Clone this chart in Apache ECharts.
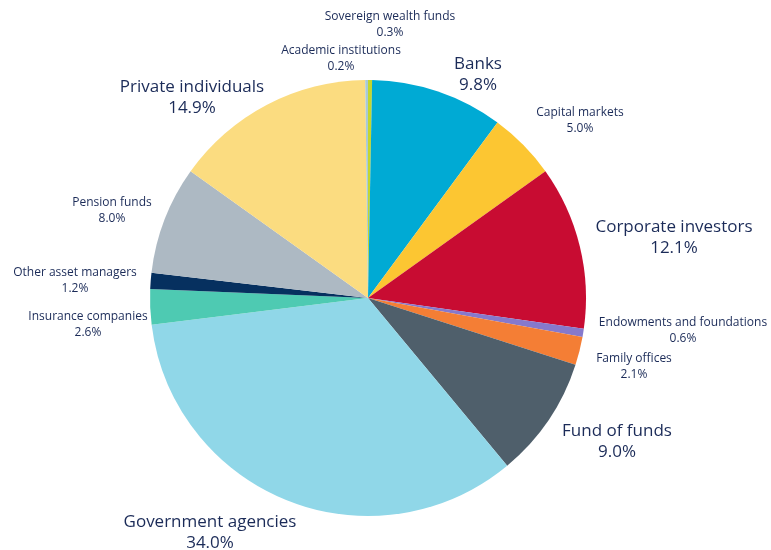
<!DOCTYPE html>
<html>
<head>
<meta charset="utf-8">
<script src="https://cdn.jsdelivr.net/npm/echarts@6/dist/echarts.min.js"></script>
<style>
  html, body { margin: 0; padding: 0; background: #fff; }
  #chart { width: 771px; height: 550px; }
</style>
</head>
<body>
<div id="chart"></div>
<script>
// Investor types, clockwise from 12 o'clock
const categories = [
  'Sovereign wealth funds', 'Banks', 'Capital markets', 'Corporate investors',
  'Endowments and foundations', 'Family offices', 'Fund of funds',
  'Government agencies', 'Insurance companies', 'Other asset managers',
  'Pension funds', 'Private individuals', 'Academic institutions'
];
const shares = [0.3, 9.8, 5.0, 12.1, 0.6, 2.1, 9.0, 34.0, 2.6, 1.2, 8.0, 14.9, 0.2];

const sliceColors = [
  '#c3d62e', '#00aad4', '#fcc632', '#c80c32',
  '#8679cc', '#f47e35', '#4f5f6b',
  '#90d7e8', '#4ecab2', '#06305f',
  '#adb9c3', '#fbdc80', '#a8c9d8'
];

// Categories printed with the larger label style
const majorLabels = ['Banks', 'Corporate investors', 'Fund of funds', 'Government agencies', 'Private individuals'];

// Label anchor points (pixel centres of each two-line label)
const labelAnchors = {
  'Sovereign wealth funds': [390, 25],
  'Academic institutions': [341, 59],
  'Banks': [478, 75],
  'Capital markets': [580, 121],
  'Corporate investors': [674, 238],
  'Endowments and foundations': [683, 331],
  'Family offices': [634, 367],
  'Fund of funds': [617, 442],
  'Government agencies': [210, 533],
  'Insurance companies': [88, 325],
  'Other asset managers': [75, 281],
  'Pension funds': [112, 211],
  'Private individuals': [192, 98]
};

const chart = echarts.init(document.getElementById('chart'), null, { renderer: 'canvas' });

const seriesData = categories.map((name, i) => {
  const major = majorLabels.includes(name);
  return {
    name: name,
    value: shares[i],
    itemStyle: { color: sliceColors[i] },
    label: {
      fontSize: major ? 17 : 12,
      lineHeight: major ? 21 : 16
    }
  };
});

chart.setOption({
  animation: false,
  series: [{
    type: 'pie',
    center: [368, 298],
    radius: 218,
    startAngle: 90,
    clockwise: true,
    avoidLabelOverlap: false,
    data: seriesData,
    itemStyle: { borderWidth: 0 },
    label: {
      show: true,
      position: 'outside',
      formatter: p => p.name + '\n' + p.value.toFixed(1) + '%',
      color: '#1b2b58',
      fontFamily: 'Open Sans',
      align: 'center'
    },
    labelLine: { show: false },
    labelLayout: params => {
      const a = labelAnchors[categories[params.dataIndex]];
      return { x: a[0], y: a[1], align: 'center', verticalAlign: 'middle' };
    }
  }]
});
</script>
</body>
</html>
